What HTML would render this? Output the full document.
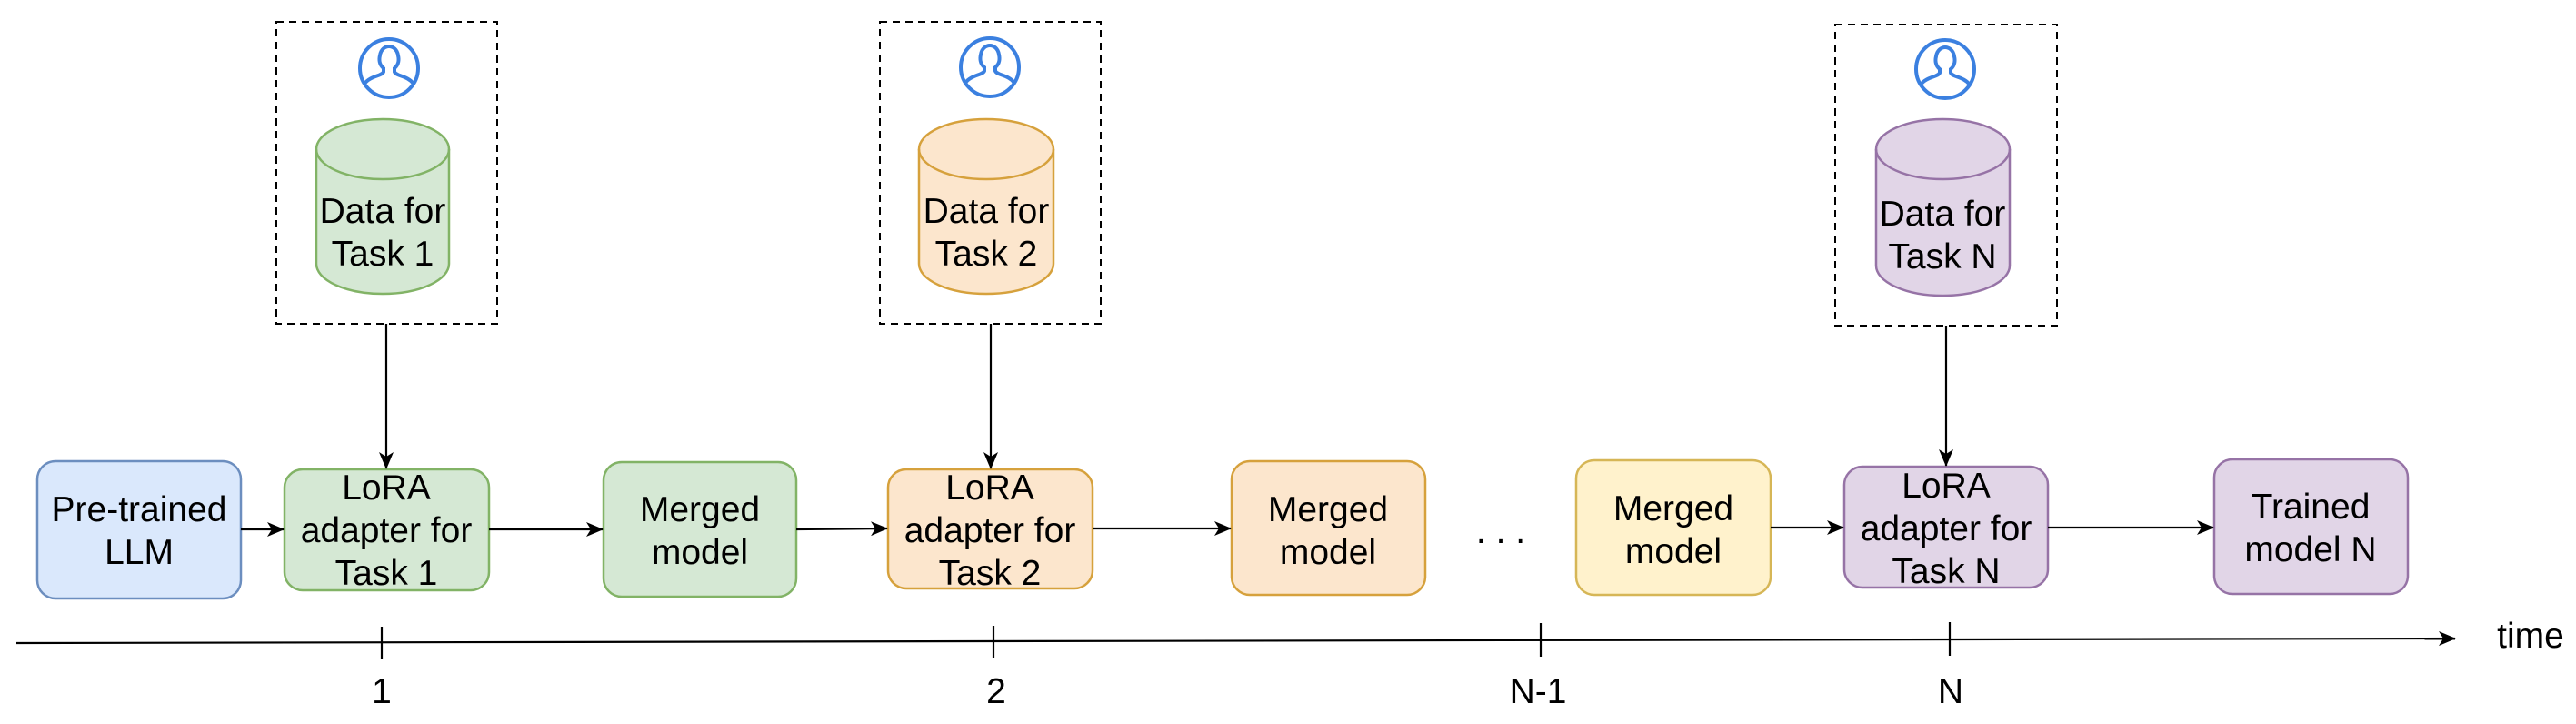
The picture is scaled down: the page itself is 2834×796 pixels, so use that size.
<!DOCTYPE html>
<html><head><meta charset="utf-8"><style>
html,body{margin:0;padding:0;background:#fff;}
svg{display:block;}
text{font-family:"Liberation Sans",Arial,sans-serif;font-size:39px;fill:#000;text-anchor:middle;}
</style></head><body>
<svg width="2834" height="796" viewBox="0 0 2834 796" xmlns="http://www.w3.org/2000/svg">
<defs>
<marker id="ah" markerWidth="20" markerHeight="16" refX="18" refY="8" orient="auto" markerUnits="userSpaceOnUse">
<path d="M0,0 L19,8 L0,16 L5,8 Z" fill="#000"/>
</marker>
<g id="user" fill="none" stroke="#3b80e0" stroke-width="4">
<circle cx="0" cy="0" r="32"/>
<path d="M-27,17 C-20,8 -8,9 -6,4 L-6,0 C-11,-4 -11,-10 -10,-14 C-9,-21 -4,-24 0,-24 C4,-24 9,-21 10,-14 C11,-10 11,-4 6,0 L6,4 C8,9 20,8 27,17"/>
</g>
</defs>

<!-- dashed boxes -->
<g fill="none" stroke="#000" stroke-width="2" stroke-dasharray="8 6">
<rect x="304" y="24" width="243" height="332"/>
<rect x="968" y="24" width="243" height="332"/>
<rect x="2019" y="27" width="244" height="331"/>
</g>

<use href="#user" x="428" y="75"/>
<use href="#user" x="1089" y="74"/>
<use href="#user" x="2140" y="76"/>

<!-- cylinders -->
<g stroke-width="2.5">
<path d="M348,164 L348,290 A73,33 0 0 0 494,290 L494,164 A73,33 0 0 0 348,164 Z" fill="#d5e8d4" stroke="#82b366"/>
<path d="M348,164 A73,33 0 0 0 494,164" fill="none" stroke="#82b366"/>
<path d="M1011,164 L1011,290 A74,33 0 0 0 1159,290 L1159,164 A74,33 0 0 0 1011,164 Z" fill="#fce6cd" stroke="#d6a13c"/>
<path d="M1011,164 A74,33 0 0 0 1159,164" fill="none" stroke="#d6a13c"/>
<path d="M2064,164 L2064,292 A73.5,33 0 0 0 2211,292 L2211,164 A73.5,33 0 0 0 2064,164 Z" fill="#e1d5e7" stroke="#9673a6"/>
<path d="M2064,164 A73.5,33 0 0 0 2211,164" fill="none" stroke="#9673a6"/>
</g>
<text x="421" y="245">Data for</text><text x="421" y="292">Task 1</text>
<text x="1085" y="245">Data for</text><text x="1085" y="292">Task 2</text>
<text x="2137" y="248">Data for</text><text x="2137" y="295">Task N</text>

<!-- boxes -->
<g stroke-width="2.5">
<rect x="41" y="507" width="224" height="151" rx="20" fill="#dae8fc" stroke="#6c8ebf"/>
<rect x="313" y="516" width="225" height="133" rx="20" fill="#d5e8d4" stroke="#82b366"/>
<rect x="664" y="508" width="212" height="148" rx="20" fill="#d5e8d4" stroke="#82b366"/>
<rect x="977" y="516" width="225" height="131" rx="20" fill="#fce6cd" stroke="#d6a13c"/>
<rect x="1355" y="507" width="213" height="147" rx="20" fill="#fce6cd" stroke="#d6a13c"/>
<rect x="1734" y="506" width="214" height="148" rx="20" fill="#fff2cc" stroke="#d6b656"/>
<rect x="2029" y="513" width="224" height="133" rx="20" fill="#e1d5e7" stroke="#9673a6"/>
<rect x="2436" y="505" width="213" height="148" rx="20" fill="#e1d5e7" stroke="#9673a6"/>
</g>
<text x="153" y="573">Pre-trained</text><text x="153" y="620">LLM</text>
<text x="425" y="549">LoRA</text><text x="425" y="596">adapter for</text><text x="425" y="643">Task 1</text>
<text x="770" y="573">Merged</text><text x="770" y="620">model</text>
<text x="1089" y="549">LoRA</text><text x="1089" y="596">adapter for</text><text x="1089" y="643">Task 2</text>
<text x="1461" y="573">Merged</text><text x="1461" y="620">model</text>
<text x="1841" y="572">Merged</text><text x="1841" y="619">model</text>
<text x="2141" y="547">LoRA</text><text x="2141" y="594">adapter for</text><text x="2141" y="641">Task N</text>
<text x="2542" y="570">Trained</text><text x="2542" y="617">model N</text>
<text x="1651" y="597">. . .</text>

<!-- connectors -->
<g stroke="#000" stroke-width="2.2" fill="none" marker-end="url(#ah)">
<line x1="425" y1="356" x2="425" y2="515"/>
<line x1="1090" y1="356" x2="1090" y2="515"/>
<line x1="2141" y1="358" x2="2141" y2="512"/>
<line x1="265" y1="582" x2="312" y2="582"/>
<line x1="538" y1="582" x2="663" y2="582"/>
<line x1="876" y1="582" x2="976" y2="581"/>
<line x1="1202" y1="581" x2="1354" y2="581"/>
<line x1="1948" y1="580" x2="2028" y2="580"/>
<line x1="2253" y1="580" x2="2435" y2="580"/>
<line x1="18" y1="707" x2="2701" y2="702"/>
</g>
<g stroke="#000" stroke-width="2.2">
<line x1="420" y1="689" x2="420" y2="724"/>
<line x1="1093" y1="688" x2="1093" y2="723"/>
<line x1="1695" y1="685" x2="1695" y2="722"/>
<line x1="2145" y1="684" x2="2145" y2="721"/>
</g>
<text x="420" y="773">1</text>
<text x="1096" y="773">2</text>
<text x="1692" y="773">N-1</text>
<text x="2146" y="773">N</text>
<text x="2784" y="712">time</text>
</svg>
</body></html>
